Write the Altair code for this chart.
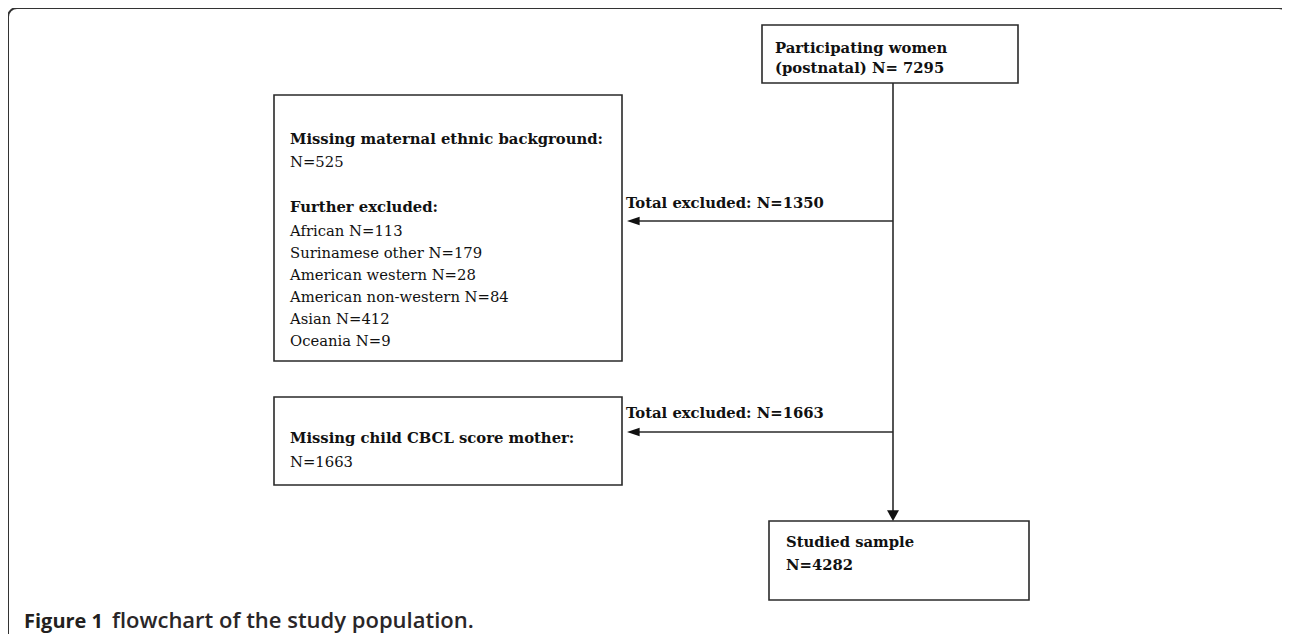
import altair as alt
import pandas as pd

# ---- content ----
start_label = ["Participating women", "(postnatal) N= 7295"]
excl1_head = ["Missing maternal ethnic background:", "Further excluded:"]
excl1_missing = 525
excl1_groups = ["African", "Surinamese other", "American western",
                "American non-western", "Asian", "Oceania"]
excl1_counts = [113, 179, 28, 84, 412, 9]
total_excluded = [1350, 1663]
excl2_head = "Missing child CBCL score mother:"
excl2_count = 1663
final_label = ["Studied sample", " N=4282"]
caption_bold = "Figure 1"
caption_rest = "flowchart of the study population."

# ---- layout (image pixel coordinates) ----
box_x1 = [762, 274, 274, 769]
box_x2 = [1018, 622, 622, 1029]
box_y1 = [25, 95, 397, 521]
box_y2 = [83, 361, 485, 600]

W, H = 1274, 626
X0, Y0 = 8, 8
xs = alt.Scale(domain=[X0, X0 + W], nice=False, zero=False)
ys = alt.Scale(domain=[Y0, Y0 + H], nice=False, zero=False, reverse=True)

def X(f):
    return alt.X(f, type="quantitative", scale=xs, axis=None)

def Y(f):
    return alt.Y(f, type="quantitative", scale=ys, axis=None)

# frame
frame = pd.DataFrame({"x": [8], "x2": [1288], "y": [8], "y2": [700]})
frame_l = alt.Chart(frame).mark_rect(fill="white", stroke="#333333", strokeWidth=2,
                                     cornerRadius=9).encode(
    x=X("x"), x2="x2", y=Y("y"), y2="y2")

boxes = pd.DataFrame({"x": box_x1, "x2": box_x2, "y": box_y1, "y2": box_y2})
boxes_l = alt.Chart(boxes).mark_rect(fill="white", stroke="#2a2a2a",
                                     strokeWidth=1.6).encode(
    x=X("x"), x2="x2", y=Y("y"), y2="y2")

# connector lines
main_x = 893
lines = pd.DataFrame({
    "x": [main_x, main_x, main_x],
    "x2": [main_x, 634, 634],
    "y": [83, 221, 432],
    "y2": [512, 221, 432],
})
lines_l = alt.Chart(lines).mark_rule(color="#2a2a2a", strokeWidth=1.6).encode(
    x=X("x"), x2="x2", y=Y("y"), y2="y2")

down_head = pd.DataFrame({"x": [main_x], "y": [521]})
down_l = alt.Chart(down_head).mark_point(
    shape="M-1,-1.8L1,-1.8L0,0Z", filled=True, color="#111111", size=144,
    opacity=1, strokeWidth=0).encode(x=X("x"), y=Y("y"))

left_head = pd.DataFrame({"x": [627, 627], "y": [221, 432]})
left_l = alt.Chart(left_head).mark_point(
    shape="M0,0L2.1,-0.7L2.1,0.7Z", filled=True, color="#111111", size=144,
    opacity=1, strokeWidth=0).encode(x=X("x"), y=Y("y"))

# texts
bold_rows = [
    (start_label[0], 775, 53),
    (start_label[1], 775, 73),
    (excl1_head[0], 290, 144),
    (excl1_head[1], 290, 212),
    ("Total excluded: N=%d" % total_excluded[0], 626, 208),
    ("Total excluded: N=%d" % total_excluded[1], 626, 418),
    (excl2_head, 290, 443),
    (final_label[0], 786, 547),
    (final_label[1], 786, 570),
]
normal_rows = [("N=%d" % excl1_missing, 290, 167)]
for i, (g, c) in enumerate(zip(excl1_groups, excl1_counts)):
    normal_rows.append(("%s N=%d" % (g, c), 290, 236 + i * 22))
normal_rows.append(("N=%d" % excl2_count, 290, 467))

bold_df = pd.DataFrame(bold_rows, columns=["t", "x", "y"])
norm_df = pd.DataFrame(normal_rows, columns=["t", "x", "y"])

bold_l = alt.Chart(bold_df).mark_text(
    align="left", baseline="alphabetic", font="DejaVu Serif", fontSize=14.8,
    fontWeight="bold", color="#111111").encode(x=X("x"), y=Y("y"), text="t:N")
norm_l = alt.Chart(norm_df).mark_text(
    align="left", baseline="alphabetic", font="DejaVu Serif", fontSize=14.8,
    color="#111111").encode(x=X("x"), y=Y("y"), text="t:N")

cap_df = pd.DataFrame({"t": [caption_bold, caption_rest], "x": [24, 112],
                       "y": [628, 628], "w": ["bold", "normal"]})
cap_b = alt.Chart(cap_df).transform_filter("datum.w == 'bold'").mark_text(
    align="left", baseline="alphabetic", font="Open Sans", fontSize=20,
    fontWeight="bold", color="#231f20").encode(x=X("x"), y=Y("y"), text="t:N")
cap_n = alt.Chart(cap_df).transform_filter("datum.w == 'normal'").mark_text(
    align="left", baseline="alphabetic", font="Open Sans", fontSize=22,
    fontWeight=600, color="#2a2628").encode(x=X("x"), y=Y("y"), text="t:N")

chart = alt.layer(frame_l, boxes_l, lines_l, down_l, left_l, bold_l, norm_l,
                  cap_b, cap_n).properties(
    width=W, height=H, padding=0, autosize=alt.AutoSizeParams(type="none"),
    background="white"
).configure_view(stroke=None)

chart.save("out.html", embed_options={"renderer": "svg", "actions": False})
